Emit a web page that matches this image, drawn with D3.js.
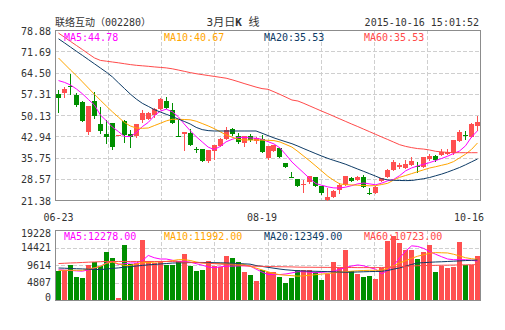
<!DOCTYPE html>
<html><head><meta charset="utf-8">
<script src="https://cdn.jsdelivr.net/npm/d3@7/dist/d3.min.js"></script>
<style>
body{margin:0;background:#fff}
svg{display:block}
text{font-family:'DejaVu Sans Mono','Noto Sans CJK SC',monospace;font-size:10px;fill:#333}
</style>
</head><body><svg id="c" width="505" height="330"></svg>
<script>
// ---------- data ----------
const openP  = [57.23,57.47,59.95,56.79,54.63,44.48,54.87,47.09,43.70,47.32,43.35,48.10,43.70,43.13,48.44,48.88,50.13,52.16,54.87,51.82,43.10,43.70,44.14,38.60,38.63,34.57,38.05,39.64,42.01,45.29,43.03,40.56,43.03,41.34,41.91,35.48,37.95,39.07,33.79,29.30,28.48,26.60,27.57,29.06,26.10,21.40,22.50,24.76,26.45,28.93,28.14,29.26,23.90,23.85,27.91,29.26,31.53,32.66,32.30,33.22,32.90,32.65,35.14,36.26,36.60,36.94,37.17,41.44,43.43,42.79,46.40];
const highP  = [58.59,59.70,64.00,57.67,54.87,53.28,57.90,52.94,48.44,47.32,43.35,48.44,45.06,47.09,51.82,51.25,52.60,55.88,56.22,54.09,48.44,44.48,45.29,39.41,38.63,38.29,39.98,42.45,45.97,45.63,43.94,43.03,43.60,42.79,43.26,39.64,40.00,39.10,33.80,30.75,28.50,28.14,29.50,29.30,26.20,25.34,24.60,27.03,29.60,29.10,29.50,29.84,25.34,26.00,28.90,31.70,34.90,33.80,34.91,35.82,34.34,35.90,36.94,36.60,38.53,38.53,41.70,45.06,44.70,47.50,49.80];
const lowP   = [51.25,56.32,57.23,53.17,48.20,43.60,49.00,43.94,40.56,38.63,43.35,41.10,39.41,42.79,47.86,48.68,49.56,52.16,52.39,47.32,43.00,38.29,40.09,37.72,34.50,34.34,35.25,39.64,42.00,43.37,40.56,39.64,41.34,40.76,37.72,35.40,37.90,35.80,32.60,29.25,26.20,24.19,27.00,26.10,23.50,21.38,22.30,23.64,26.30,27.80,28.00,25.68,23.31,23.80,27.80,29.10,31.40,32.10,32.20,33.10,30.95,32.50,35.00,34.69,36.50,36.90,37.00,41.30,42.00,42.70,45.10];
const closeP = [55.99,58.92,59.90,53.61,48.20,53.28,49.90,44.82,42.79,39.41,43.35,43.37,42.79,47.09,50.91,50.91,52.06,55.54,52.60,47.52,43.00,44.48,40.09,38.50,34.67,38.29,39.98,41.91,45.06,43.70,41.10,43.03,41.67,42.45,37.72,39.64,39.98,36.02,32.66,29.25,26.21,26.70,29.50,26.21,23.64,22.50,24.42,26.45,29.50,27.91,29.26,25.88,23.85,25.88,28.70,31.53,34.34,33.22,33.56,34.69,32.80,35.82,36.26,34.91,37.72,37.72,41.67,44.48,43.30,47.09,47.87];
const volume = [8078,8350,9710,6446,6174,9710,10336,9438,13056,11614,462,15232,9900,10172,16510,10798,10172,10608,9710,9710,10608,12702,9248,7888,8160,10608,9248,9085,11968,11424,10336,7616,6990,5168,8160,7616,7616,6256,4733,6093,8350,8350,8350,7616,5630,7262,10336,8813,13790,7888,7262,6256,6528,5902,8813,16320,17598,15776,13790,13790,11342,13056,15150,7616,9248,8813,9085,16048,9710,9710,12158];

const ma5  = [61.77,61.16,60.28,58.92,57.30,55.37,53.51,50.13,48.17,46.04,44.55,42.86,42.86,44.18,46.21,47.63,49.83,51.45,52.09,51.25,49.55,47.09,44.82,42.82,41.03,39.27,38.46,39.48,41.06,41.91,42.52,42.59,42.38,42.25,41.91,41.10,40.35,38.97,36.67,34.23,32.34,30.48,28.58,26.93,26.35,25.81,25.47,25.44,25.74,26.25,26.86,27.13,26.82,26.52,27.10,27.87,28.35,29.63,31.26,32.24,32.91,33.45,34.03,34.71,35.42,36.19,37.11,37.95,39.71,42.69,44.78];
const ma10 = [69.41,67.38,65.35,63.42,61.33,59.23,57.13,55.14,53.14,51.21,49.42,47.63,46.41,45.73,45.63,45.73,46.54,47.32,48.13,48.68,48.68,48.61,48.51,48.03,47.25,46.44,45.53,44.48,43.40,42.62,41.91,41.67,41.67,41.67,41.64,41.57,41.47,41.00,40.15,39.27,37.78,36.16,34.54,32.85,31.12,29.40,28.01,26.82,26.55,26.49,26.38,26.28,26.18,26.25,26.62,27.03,28.14,29.06,29.67,30.31,30.95,31.59,32.20,32.64,33.12,33.59,34.37,35.62,36.87,38.49,40.67];
const ma20 = [75.90,74.52,73.10,71.68,70.29,68.87,67.45,66.03,64.61,63.02,61.05,59.13,57.20,55.51,54.09,53.04,51.96,51.14,50.37,49.62,48.78,47.96,47.09,45.94,45.19,44.85,44.72,44.72,44.72,44.72,44.72,44.72,44.72,44.72,43.97,43.16,42.38,41.71,41.06,40.42,39.61,38.73,37.89,37.04,36.23,35.45,34.77,34.13,33.45,32.64,31.83,31.05,30.24,29.43,28.58,28.18,28.04,27.98,27.94,27.98,28.28,28.58,28.99,29.57,30.14,30.82,31.59,32.37,33.29,34.27,35.25];
const ma60 = [77.83,76.44,75.02,73.64,72.25,70.83,69.44,68.60,68.33,68.06,67.79,67.48,67.18,66.94,66.77,66.60,66.40,66.23,66.06,65.76,65.35,64.91,64.47,64.10,63.79,63.49,63.19,62.88,62.58,62.04,61.43,60.78,60.18,59.57,59.06,58.82,57.98,57.10,56.15,55.20,54.86,54.05,53.17,52.29,51.41,50.57,49.69,48.81,47.93,47.05,46.21,45.33,44.45,43.57,42.69,41.84,40.96,40.08,39.51,39.10,38.77,38.60,38.29,37.85,37.65,37.48,37.38,37.38,37.38,37.38,37.38];

const vma5  = [8296,8214,8106,7997,7915,8296,8758,9248,10173,10499,9765,9955,10173,10173,10798,12240,11614,11261,11261,10934,10608,10608,10390,9982,9574,9085,8867,9112,9275,9302,9357,9411,9330,8486,7670,6990,6990,6990,7154,7453,7779,7779,7643,7480,7589,7752,7915,8459,8922,9330,9629,9384,8922,8432,7208,8133,9574,11533,13464,14878,14715,14171,13301,12566,11886,11261,11070,11070,11070,10907,10690];
const vma10 = [8160,8160,8160,8160,8160,8486,8867,9248,10064,10445,9955,9493,9466,9901,10200,10309,10390,10499,10581,10826,11070,11070,10853,10445,10146,10118,10064,10010,9955,9901,9846,9765,9275,8758,8269,7752,7262,6936,6800,6691,6555,6637,6800,6963,7126,7290,7453,7616,7779,7915,8024,8106,8160,8160,8160,8758,9466,10173,10798,11451,12022,12430,12838,13029,12974,12920,12566,12104,11614,11342,11152];
const vma20 = [8786,8731,8650,8595,8541,8459,8405,8350,8514,8677,8813,9003,9166,9330,9493,9656,9765,9901,10010,10146,10200,10227,10282,10309,10309,10282,10254,10227,10173,10118,10010,9928,9846,9466,9221,8976,8731,8486,8296,8160,8024,7970,7915,7888,7834,7779,7725,7670,7616,7643,7698,7752,7806,7834,7888,8106,8486,8813,9302,9765,10173,10254,10363,10445,10499,10581,10662,10744,10826,10907,10989];
const vma60 = [10010,10091,10173,10227,10309,10390,10445,10526,10581,10581,10581,10581,10581,10581,10581,10581,10581,10581,10581,10581,10472,10390,10336,10282,10227,10091,9982,9874,9765,9656,9520,9411,9302,9275,9248,9194,9166,9139,9112,9085,9030,9003,9003,8976,8976,8949,8949,8922,8922,8922,8894,8894,8894,8894,8922,9003,9085,9166,9248,9330,9411,9466,9493,9520,9547,9574,9602,9629,9656,9683,9710];

const priceTicks = ["78.88","71.69","64.50","57.31","50.13","42.94","35.75","28.57","21.38"];
const volTicks   = ["19228","14421","9614","4807","0"];
const dateLabels = ["06-23","08-19","10-16"];
const dateIndex  = [0,34,70];
const titleName  = "联络互动（002280）";
const titleTime  = "2015-10-16 15:01:52";
const maNames    = ["MA5","MA10","MA20","MA60"];
const maLegend   = ["44.78","40.67","35.53","35.53"];
const volLegend  = ["12278.00","11992.00","12349.00","10723.00"];

// ---------- styles ----------
const RED = "#ff5050", GREEN = "#008f00";
const maColors = ["#ff00ff","#ffa500","#0d3b66","#ff4a4a"];
const FRAME = "#8c8c8c", GRID = "#cfcfcf";

const svg = d3.select("#c");
const L = 55, R = 480, T = 30, B = 200, VT = 230, VB = 300;
const N = closeP.length;

const x = d3.scaleBand().domain(d3.range(N)).range([L, R]);
const y = d3.scaleLinear().domain([+priceTicks[8], +priceTicks[0]]).range([B, T]);
const yv = d3.scaleLinear().domain([0, +volTicks[0]]).range([VB, VT]);
const gx = d3.scaleLinear().domain([0, 8]).range([L, R]);

const px = i => Math.round(x(i));

// clip paths
const defs = svg.append("defs");
defs.append("clipPath").attr("id","cm").append("rect").attr("x",L).attr("y",T).attr("width",R-L+1).attr("height",B-T+1);
defs.append("clipPath").attr("id","cv").append("rect").attr("x",L).attr("y",VT).attr("width",R-L+1).attr("height",VB-VT+1);

// ---------- grids ----------
function grid(top, bottom, ys) {
  const g = svg.append("g").attr("stroke", GRID).attr("stroke-dasharray","4,2").attr("shape-rendering","crispEdges");
  ys.forEach(v => g.append("line").attr("x1",L).attr("x2",R).attr("y1",Math.round(v)+0.5).attr("y2",Math.round(v)+0.5));
  d3.range(1,8).forEach(k => g.append("line").attr("x1",Math.round(gx(k))+0.5).attr("x2",Math.round(gx(k))+0.5).attr("y1",top).attr("y2",bottom));
}
grid(T, B, priceTicks.slice(1,-1).map(t => y(+t)));
grid(VT, VB, volTicks.slice(1,-1).map(t => yv(+t)));

// frames
[[T,B],[VT,VB]].forEach(([t,b]) => svg.append("rect").attr("x",L+0.5).attr("y",t+0.5).attr("width",R-L).attr("height",b-t)
  .attr("fill","none").attr("stroke",FRAME).attr("shape-rendering","crispEdges"));

// ---------- candles ----------
const isUp = i => closeP[i] > openP[i] || (closeP[i] === openP[i] && (i === 0 || closeP[i] >= closeP[i-1]));
const cg = svg.append("g").attr("shape-rendering","crispEdges");
d3.range(N).forEach(i => {
  const col = isUp(i) ? RED : GREEN;
  const cx = px(i) + 3.5;
  cg.append("line").attr("x1",cx).attr("x2",cx).attr("y1",Math.round(y(highP[i]))).attr("y2",Math.round(y(lowP[i]))+1).attr("stroke",col);
  const t = Math.round(y(Math.max(openP[i],closeP[i]))), b = Math.round(y(Math.min(openP[i],closeP[i])));
  cg.append("rect").attr("x",px(i)+1).attr("y",t).attr("width",5).attr("height",Math.max(1,b-t)).attr("fill",col);
});

// MA lines (price)
const lineP = d3.line().x((d,i) => x(i)+3.5).y(d => y(d));
[ma5, ma10, ma20, ma60].forEach((arr,k) => svg.append("path").attr("d", lineP(arr)).attr("fill","none")
  .attr("stroke", maColors[k]).attr("stroke-width",1).attr("clip-path","url(#cm)"));

// ---------- volume ----------
const vg = svg.append("g").attr("shape-rendering","crispEdges");
d3.range(N).forEach(i => {
  const t = Math.round(yv(volume[i]));
  vg.append("rect").attr("x",px(i)+1).attr("y",t).attr("width",5).attr("height",Math.max(1,VB-t)).attr("fill", isUp(i)?RED:GREEN);
});
const lineV = d3.line().x((d,i) => x(i)+3.5).y(d => yv(d));
[vma5, vma10, vma20, vma60].forEach((arr,k) => svg.append("path").attr("d", lineV(arr)).attr("fill","none")
  .attr("stroke", maColors[k]).attr("stroke-width",1).attr("clip-path","url(#cv)"));

// ---------- axis labels ----------
priceTicks.forEach(t => svg.append("text").attr("x",51).attr("y",y(+t)+1).attr("text-anchor","end").attr("dominant-baseline","central").text(t));
volTicks.forEach(t => svg.append("text").attr("x",51).attr("y",Math.min(Math.max(yv(+t),233),297)).attr("text-anchor","end").attr("dominant-baseline","central").text(t));
dateLabels.forEach((t,k) => {
  const cx = Math.min(x(dateIndex[k]) + 3.5, 484 - 15);
  svg.append("text").attr("x",cx).attr("y",217).attr("text-anchor","middle").attr("dominant-baseline","central").text(t);
});

// ---------- title ----------
svg.append("text").attr("x",L).attr("y",22).attr("dominant-baseline","central").text(titleName);
const mid = svg.append("text").attr("x",233).attr("y",22).attr("text-anchor","middle").attr("dominant-baseline","central").style("font-size","11px");
mid.append("tspan").text("3月日");
mid.append("tspan").attr("font-weight","bold").text("K");
mid.append("tspan").text(" 线");
svg.append("text").attr("x",479).attr("y",22).attr("text-anchor","end").attr("dominant-baseline","central").text(titleTime);

// ---------- legends ----------
const legX = d3.scaleLinear().domain([0,4]).range([64, 464]);
maNames.forEach((n,k) => {
  svg.append("text").attr("x",legX(k)).attr("y",37).attr("dominant-baseline","central").style("fill",maColors[k]).text(n+":"+maLegend[k]);
  svg.append("text").attr("x",legX(k)).attr("y",236).attr("dominant-baseline","central").style("fill",maColors[k]).text(n+":"+volLegend[k]);
});
</script>
</body></html>
